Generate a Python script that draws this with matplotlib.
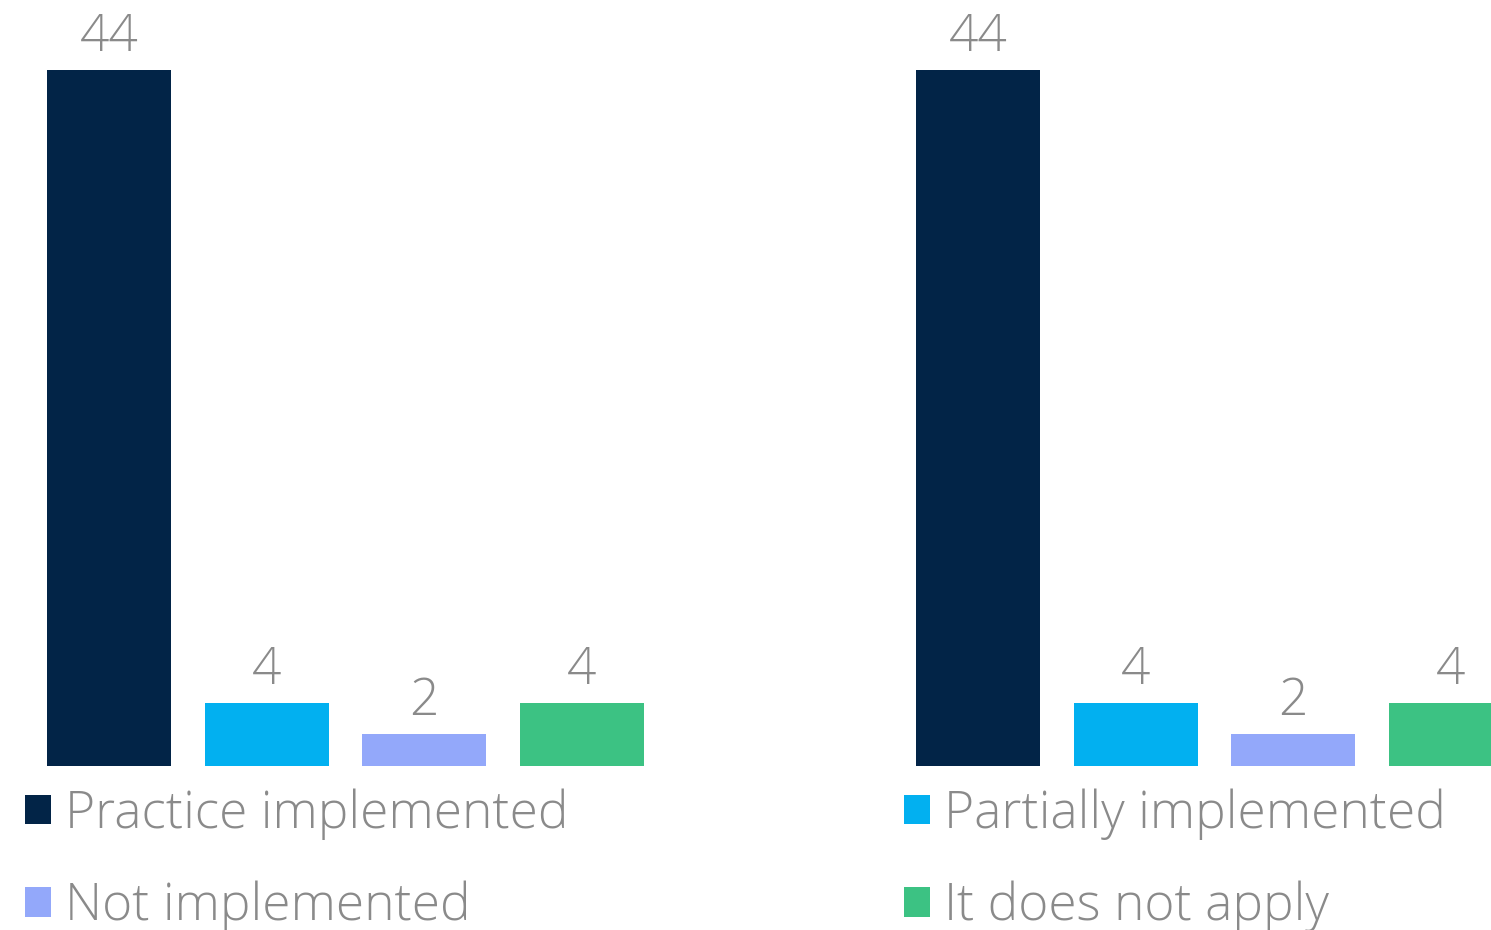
import numpy as np
import matplotlib.pyplot as plt
from matplotlib.patches import Patch

# --- Data ---
categories = ['Practice implemented', 'Partially implemented', 'Not implemented', 'It does not apply']
group_a = [44, 4, 2, 4]
group_b = [44, 4, 2, 4]
colors = ['#022447', '#02B0F0', '#93A8FA', '#3CC283']

TEXT_GREY = '#8a8a8a'
plt.rcParams['font.family'] = ['Open Sans', 'DejaVu Sans']

fig = plt.figure(figsize=(14.91, 9.3), dpi=100)
# axes spans full width; baseline at y=766px, top at figure top
ax = fig.add_axes([0, (930 - 766) / 930, 1, 766 / 930])

idx = np.arange(len(categories))
group_gap = 5.511
width = 0.787

for g, vals in enumerate([group_a, group_b]):
    x = idx + g * group_gap
    bars = ax.bar(x, vals, width=width, color=colors)
    ax.bar_label(bars, labels=[str(v) for v in vals], padding=5,
                 fontsize=37, color=TEXT_GREY, fontweight='light')

ax.set_xlim(-0.691, 8.765)
ax.set_ylim(0, 48.42)
ax.axis('off')

# --- Legend (two columns, placed as two legends) ---
handles = [Patch(facecolor=c, edgecolor='none') for c in colors]
leg_kw = dict(frameon=False, fontsize=37, handlelength=0.5, handleheight=0.5,
              handletextpad=0.27, labelspacing=0.8, borderpad=0, borderaxespad=0,
              labelcolor=TEXT_GREY, loc='upper left')
leg1 = fig.legend([handles[0], handles[2]], [categories[0], categories[2]],
                  bbox_to_anchor=(25 / 1491, (930 - 788) / 930), **leg_kw)
leg2 = fig.legend([handles[1], handles[3]], [categories[1], categories[3]],
                  bbox_to_anchor=(904 / 1491, (930 - 788) / 930), **leg_kw)
for leg in (leg1, leg2):
    for t in leg.get_texts():
        t.set_fontweight('light')

fig.savefig('out.png', dpi=100)
